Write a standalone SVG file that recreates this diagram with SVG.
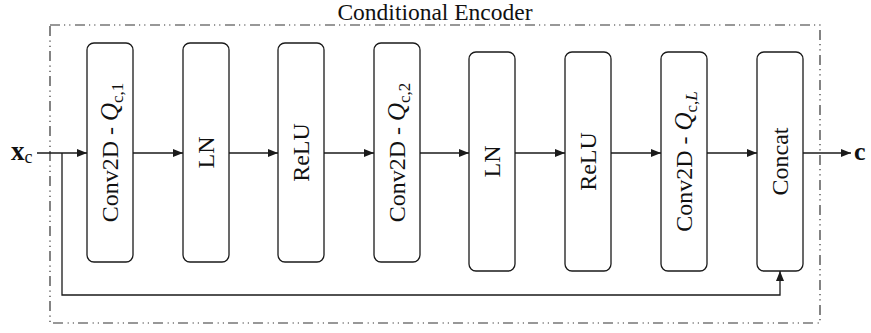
<svg xmlns="http://www.w3.org/2000/svg" width="871" height="333" viewBox="0 0 871 333">
<defs>
<marker id="ah" markerUnits="userSpaceOnUse" markerWidth="11" markerHeight="9" refX="10" refY="4" orient="auto">
<path d="M0,0 L10,4 L0,8 z" fill="#1a1a1a"/>
</marker>
<style>
.box{fill:#fff;stroke:#1a1a1a;stroke-width:1.3}
.lbl{font-family:"Liberation Serif","Times New Roman",serif;font-size:24px;fill:#111;text-anchor:middle}
.sub{font-size:17px}
.it{font-style:italic}
.con{fill:none;stroke:#1a1a1a;stroke-width:1.3}
.frame{fill:none;stroke:#333;stroke-width:1.2;stroke-dasharray:10 4 1.2 4 1.2 4.6}
</style>
</defs>
<rect class="frame" x="50" y="25" width="770" height="298"/>
<text class="lbl" x="435" y="20" style="font-size:23.5px">Conditional Encoder</text>
<g id="conv1"><rect class="box" x="87" y="43" width="46" height="219" rx="7"/>
<text class="lbl" transform="translate(118,152.5) rotate(-90)">Conv2D - <tspan class="it" style="font-size:25px">Q</tspan><tspan class="sub" dy="5">c,1</tspan></text></g>
<g id="ln1"><rect class="box" x="183" y="43" width="46" height="219" rx="7"/>
<text class="lbl" transform="translate(214,152.5) rotate(-90)">LN</text></g>
<g id="relu1"><rect class="box" x="278" y="43" width="46" height="219" rx="7"/>
<text class="lbl" transform="translate(309,152.5) rotate(-90)">ReLU</text></g>
<g id="conv2"><rect class="box" x="374" y="43" width="46" height="219" rx="7"/>
<text class="lbl" transform="translate(405,152.5) rotate(-90)">Conv2D - <tspan class="it" style="font-size:25px">Q</tspan><tspan class="sub" dy="5">c,2</tspan></text></g>
<g id="ln2"><rect class="box" x="469" y="52" width="46" height="219" rx="7"/>
<text class="lbl" transform="translate(500,161.5) rotate(-90)">LN</text></g>
<g id="relu2"><rect class="box" x="565" y="52" width="46" height="219" rx="7"/>
<text class="lbl" transform="translate(596,161.5) rotate(-90)">ReLU</text></g>
<g id="convL"><rect class="box" x="661" y="52" width="46" height="219" rx="7"/>
<text class="lbl" transform="translate(692,161.5) rotate(-90)">Conv2D - <tspan class="it" style="font-size:25px">Q</tspan><tspan class="sub" dy="5">c,<tspan class="it">L</tspan></tspan></text></g>
<g id="concat"><rect class="box" x="757" y="52" width="46" height="219" rx="7"/>
<text class="lbl" transform="translate(788,161.5) rotate(-90)">Concat</text></g>
<g id="in"><text class="lbl" x="11" y="160" style="font-weight:bold;font-size:27px;text-anchor:start">x<tspan style="font-weight:normal;font-size:18px" dy="3">c</tspan></text></g>
<g id="out"><text class="lbl" x="854" y="160" style="font-weight:bold;font-size:26px;text-anchor:start">c</text></g>
<g id="connectors">
<line class="con" x1="37" y1="153" x2="87" y2="153" marker-end="url(#ah)"/>
<line class="con" x1="133" y1="153" x2="183" y2="153" marker-end="url(#ah)"/>
<line class="con" x1="229" y1="153" x2="278" y2="153" marker-end="url(#ah)"/>
<line class="con" x1="324" y1="153" x2="374" y2="153" marker-end="url(#ah)"/>
<line class="con" x1="420" y1="153" x2="469" y2="153" marker-end="url(#ah)"/>
<line class="con" x1="515" y1="153" x2="565" y2="153" marker-end="url(#ah)"/>
<line class="con" x1="611" y1="153" x2="661" y2="153" marker-end="url(#ah)"/>
<line class="con" x1="707" y1="153" x2="757" y2="153" marker-end="url(#ah)"/>
<line class="con" x1="803" y1="153" x2="851" y2="153" marker-end="url(#ah)"/>
<path class="con" d="M62,153 V295 H780 V271" marker-end="url(#ah)"/>
</g>
</svg>
